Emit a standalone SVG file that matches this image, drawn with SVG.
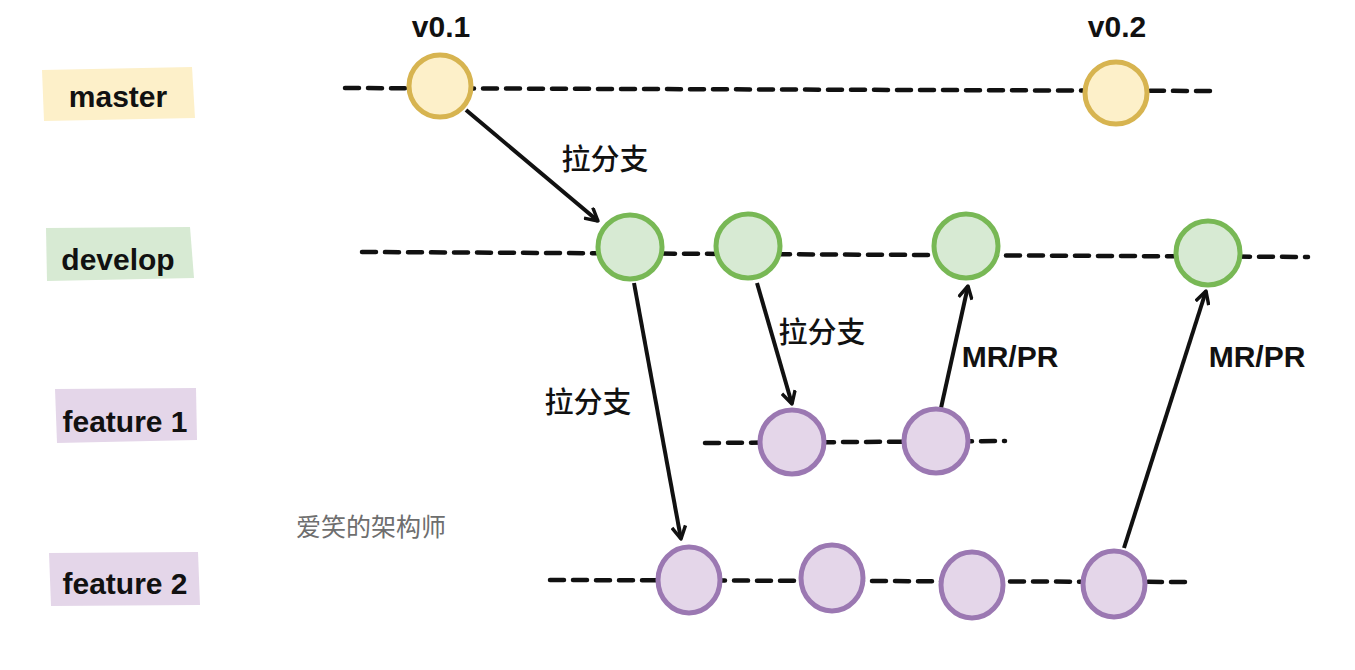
<svg xmlns="http://www.w3.org/2000/svg" width="1355" height="670" viewBox="0 0 1355 670">
<defs>
<style>
.lbl{font-family:"Liberation Sans","Noto Sans CJK SC",sans-serif;font-weight:bold;font-size:30px;fill:#111;text-anchor:middle;dominant-baseline:central}
.cjk{font-family:"Noto Sans CJK SC",sans-serif;font-weight:500;font-size:29px;fill:#111;text-anchor:middle;dominant-baseline:central}
.wm{font-family:"Noto Sans CJK SC",sans-serif;font-size:25px;fill:#6e6e6e;text-anchor:middle;dominant-baseline:central}
.lane{stroke:#111;stroke-width:4.5;stroke-dasharray:14 9;fill:none;stroke-linecap:round}
.m{fill:#fdf0c9;stroke:#d7b450;stroke-width:5}
.d{fill:#d7ead3;stroke:#78b855;stroke-width:5}
.f{fill:#e4d6e9;stroke:#9b78b2;stroke-width:5}
.arr{stroke:#111;stroke-width:4;fill:none;marker-end:url(#ah)}
</style>
<marker id="ah" viewBox="0 0 14 14" refX="12" refY="7" markerWidth="16" markerHeight="16" markerUnits="userSpaceOnUse" orient="auto">
<path d="M1,1 L12,7 L1,13" fill="none" stroke="#111" stroke-width="3" stroke-linejoin="round"/>
</marker>
</defs>
<rect width="1355" height="670" fill="#fff"/>

<g id="lanes">
<g id="label-master"><path d="M42,70 L192,67 L195,118 L44,121 Z" fill="#fdf0c9"/><text class="lbl" x="118" y="96">master</text></g>
<g id="label-develop"><path d="M46,228 L190,227 L194,278 L47,281 Z" fill="#d7ead3"/><text class="lbl" x="118" y="259">develop</text></g>
<g id="label-feature1"><path d="M55,389 L196,388 L197,440 L57,443 Z" fill="#e4d6e9"/><text class="lbl" x="125" y="421">feature 1</text></g>
<g id="label-feature2"><path d="M49,553 L198,552 L200,605 L51,606 Z" fill="#e4d6e9"/><text class="lbl" x="125" y="583">feature 2</text></g>
</g>

<g id="connectors">
<path class="lane" d="M345,88 L1210,91"/>
<path class="lane" d="M362,252 L1308,257"/>
<path class="lane" d="M705,443 L1005,441"/>
<path class="lane" d="M550,580 L1188,582"/>
<path class="arr" d="M466,110 L598,221"/>
<path class="arr" d="M634,283 L681,539"/>
<path class="arr" d="M757,283 L792,404"/>
<path class="arr" d="M941,408 L968,286"/>
<path class="arr" d="M1124,548 L1206,291"/>
<text class="cjk" x="605" y="157">拉分支</text>
<text class="cjk" x="588" y="400">拉分支</text>
<text class="cjk" x="822" y="330">拉分支</text>
<text class="lbl" x="1010" y="356">MR/PR</text>
<text class="lbl" x="1257" y="356">MR/PR</text>
</g>

<g id="master-v01"><circle class="m" cx="440" cy="86" r="31"/><text class="lbl" x="441" y="26">v0.1</text></g>
<g id="master-v02"><circle class="m" cx="1116" cy="93" r="31"/><text class="lbl" x="1117" y="26">v0.2</text></g>

<g id="develop-1"><circle class="d" cx="630" cy="247" r="32"/></g>
<g id="develop-2"><circle class="d" cx="748" cy="246" r="32"/></g>
<g id="develop-3"><circle class="d" cx="966" cy="246" r="32"/></g>
<g id="develop-4"><circle class="d" cx="1208" cy="253" r="32"/></g>

<g id="feature1-1"><circle class="f" cx="792" cy="442" r="32"/></g>
<g id="feature1-2"><circle class="f" cx="936" cy="441" r="32"/></g>

<g id="feature2-1"><ellipse class="f" cx="689" cy="580" rx="31" ry="33"/></g>
<g id="feature2-2"><ellipse class="f" cx="832" cy="578" rx="31" ry="33"/></g>
<g id="feature2-3"><ellipse class="f" cx="972" cy="585" rx="31" ry="33"/></g>
<g id="feature2-4"><ellipse class="f" cx="1114" cy="584" rx="31" ry="33"/></g>

<text class="wm" x="371" y="525">爱笑的架构师</text>
</svg>
